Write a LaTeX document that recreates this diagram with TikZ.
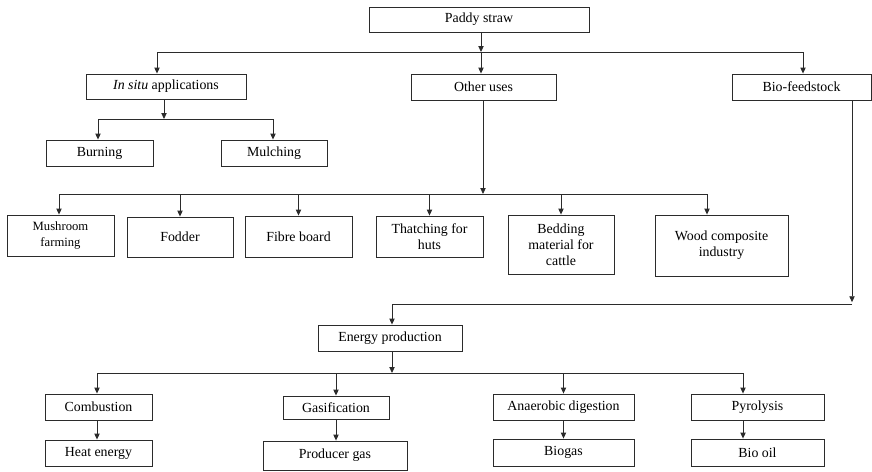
\documentclass[tikz,border=0pt]{standalone}
\usepackage{fontspec}
\setmainfont{Liberation Serif}
\usetikzlibrary{arrows.meta, positioning}
\definecolor{Ink}{HTML}{2B2B2B}

\begin{document}
\begin{tikzpicture}[x=0.02cm, y=-0.02cm,
          box/.style={rectangle, draw=Ink, line width=0.5pt, inner sep=1pt,
                      minimum height=0.52cm, font=\fontsize{7.9}{9}\selectfont,
                      align=center, text=black},
          arr/.style={-{Triangle[length=3.4pt, width=3pt]}, line width=0.5pt, color=Ink},
          bus/.style={line width=0.5pt, color=Ink}
        ]
          \useasboundingbox (0,0) rectangle (872,471);
          % top level
          \node[box, minimum width=4.4cm, minimum height=0.5cm] (paddy) at (479,19.5) {Paddy straw};
          \node[box, minimum width=3.2cm, minimum height=0.5cm] (insitu) at (166,86.5) {\textit{In situ} applications};
          \node[box, minimum width=2.9cm] (other) at (483.5,87) {Other uses};
          \node[box, minimum width=2.78cm] (bio) at (801.5,87) {Bio-feedstock};
          \node[box, minimum width=2.14cm] (burning) at (99.5,153) {Burning};
          \node[box, minimum width=2.12cm] (mulching) at (274,153) {Mulching};
          % other uses
          \node[box, minimum width=2.14cm, minimum height=0.82cm, font=\fontsize{7.2}{8.6}\selectfont] (mush) at (60.5,235.5) {Mushroom\\farming};
          \node[box, minimum width=2.12cm, minimum height=0.8cm] (fodder) at (180,237) {Fodder};
          \node[box, minimum width=2.14cm, minimum height=0.82cm] (fibre) at (298.5,236.5) {Fibre board};
          \node[box, minimum width=2.14cm, minimum height=0.82cm] (thatch) at (429.5,236.5) {Thatching for\\huts};
          \node[box, minimum width=2.12cm, minimum height=1.18cm] (bedding) at (561,244.5) {Bedding\\material for\\cattle};
          \node[box, minimum width=2.66cm, minimum height=1.22cm] (wood) at (721.5,245.5) {Wood composite\\industry};
          % energy
          \node[box, minimum width=2.88cm] (energy) at (390,338) {Energy production};
          \node[box, minimum width=2.14cm] (comb) at (98.5,407) {Combustion};
          \node[box, minimum width=2.14cm] (heat) at (98.5,453) {Heat energy};
          \node[box, minimum width=2.12cm, minimum height=0.46cm] (gasif) at (336,407.5) {Gasification};
          \node[box, minimum width=2.88cm, minimum height=0.58cm] (producer) at (335,455.5) {Producer gas};
          \node[box, minimum width=2.82cm] (anaer) at (563.5,407) {Anaerobic digestion};
          \node[box, minimum width=2.82cm, minimum height=0.54cm] (biogas) at (563.5,452.5) {Biogas};
          \node[box, minimum width=2.66cm] (pyro) at (757.5,407) {Pyrolysis};
          \node[box, minimum width=2.66cm, minimum height=0.54cm] (biooil) at (757.5,452.5) {Bio oil};

          \coordinate (j1) at (481,52);   \coordinate (b1w) at (157,52);  \coordinate (b1e) at (803,52);
          \coordinate (j2) at (164,119);  \coordinate (b2w) at (98,119);  \coordinate (b2e) at (273,119);
          \coordinate (j3) at (483,194);  \coordinate (b3w) at (59,194);  \coordinate (b3e) at (707,194);
          \coordinate (k1) at (852,304);  \coordinate (k2) at (392,304);
          \coordinate (j4) at (392,373);  \coordinate (b4w) at (97,373);  \coordinate (b4e) at (743,373);

          \draw[arr] (paddy.south -| j1) -- (j1);
          \draw[bus] (b1w) -- (b1e);
          \draw[arr] (j1) -- (other.north -| j1);
          \draw[arr] (b1w) -- (insitu.north -| b1w);
          \draw[arr] (b1e) -- (bio.north -| b1e);

          \draw[arr] (insitu.south -| j2) -- (j2);
          \draw[bus] (b2w) -- (b2e);
          \draw[arr] (b2w) -- (burning.north -| b2w);
          \draw[arr] (b2e) -- (mulching.north -| b2e);

          \draw[arr] (other.south -| j3) -- (j3);
          \draw[bus] (b3w) -- (b3e);
          \draw[arr] (b3w) -- (mush.north -| b3w);
          \draw[arr] (b3w -| fodder) -- (fodder);
          \draw[arr] (b3w -| fibre) -- (fibre);
          \draw[arr] (b3w -| thatch) -- (thatch);
          \draw[arr] (b3w -| bedding) -- (bedding);
          \draw[arr] (b3e) -- (wood.north -| b3e);

          \draw[arr] (bio.south -| k1) -- ([yshift=1pt]k1);
          \draw[bus] (k1) -- (k2);
          \draw[arr] (k2) -- (energy.north -| k2);

          \draw[arr] (energy.south -| j4) -- (j4);
          \draw[bus] (b4w) -- (b4e);
          \draw[arr] (b4w) -- (comb.north -| b4w);
          \draw[arr] (b4w -| gasif) -- (gasif);
          \draw[arr] (b4w -| anaer) -- (anaer);
          \draw[arr] (b4e) -- (pyro.north -| b4e);

          \draw[arr] (comb.south -| b4w) -- (heat.north -| b4w);
          \draw[arr] (gasif) -- (producer.north -| gasif);
          \draw[arr] (anaer) -- (biogas);
          \draw[arr] (pyro.south -| b4e) -- (biooil.north -| b4e);
        \end{tikzpicture}
\end{document}
